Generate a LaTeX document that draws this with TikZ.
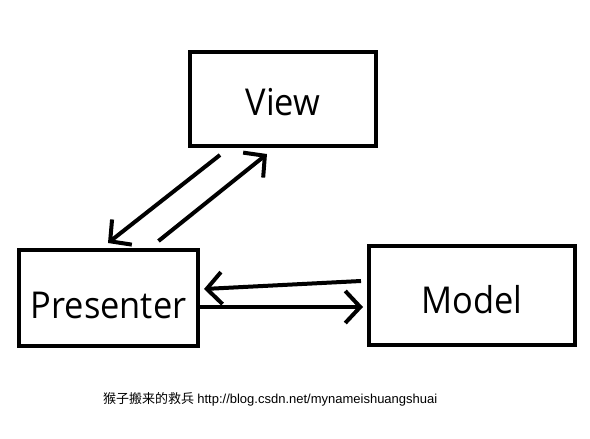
\documentclass[tikz,border=0pt]{standalone}
\usepackage{fontspec}
\setmainfont{Open Sans}[FakeStretch=0.93]
\newfontfamily\cjk{Noto Sans CJK SC}
\newfontfamily\urlfont{Liberation Sans}
\usetikzlibrary{arrows.meta,calc}
\begin{document}
\begin{tikzpicture}[x=1pt,y=-1pt,
  box/.style={draw,line width=4pt,inner sep=0pt,text depth=0pt,font=\fontsize{37}{40}\selectfont},
  conn/.style={line width=4pt,-{Straight Barb[length=15pt,width=32pt,line width=4pt]}}]
\useasboundingbox (0,0) rectangle (590,439);
\fill[white] (0,0) rectangle (590,439);
\node[box,text height=32pt,minimum width=186pt,minimum height=94pt] (view) at (283,99) {View};
\node[box,text height=40pt,minimum width=179pt,minimum height=96pt] (presenter) at (108.5,298) {Presenter};
\node[box,text height=35pt,minimum width=206pt,minimum height=99pt] (model) at (472,295.5) {Model};
\draw[conn] ([xshift=-63pt,yshift=-7pt]view.south) -- ([xshift=-0.5pt,yshift=5pt]presenter.north);
\draw[conn] ([xshift=50pt,yshift=7pt]presenter.north) -- ([xshift=-16pt,yshift=-6pt]view.south);
\draw[conn] ([xshift=-6pt,yshift=14.5pt]model.west) -- ([xshift=4pt,yshift=9pt]presenter.east);
\draw[conn] ([xshift=-1pt,yshift=-9pt]presenter.east) -- ([xshift=-4pt,yshift=-11.5pt]model.west);
\node[anchor=base west,inner sep=0pt,font=\fontsize{13}{15}\selectfont] (cap) at (103,403) {{\cjk 猴子搬来的救兵} {\urlfont http://blog.csdn.net/mynameishuangshuai}};
\end{tikzpicture}
\end{document}
